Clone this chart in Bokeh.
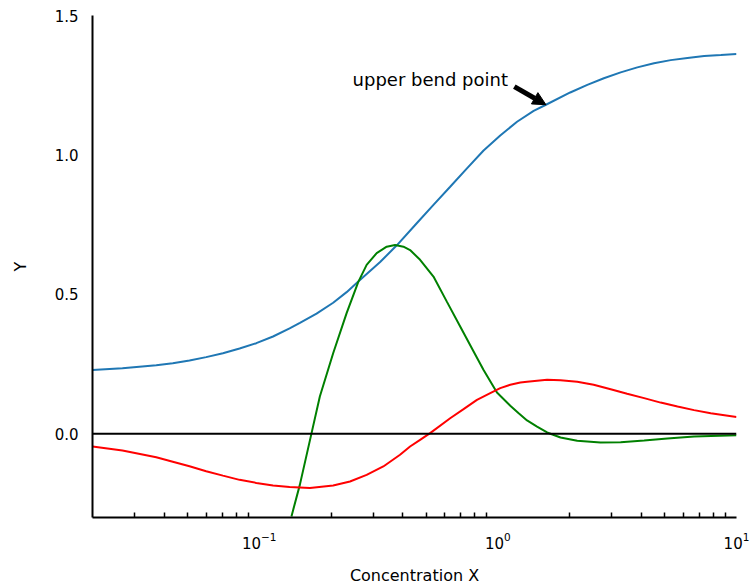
from bokeh.plotting import figure
from bokeh.models import (Range1d, FixedTicker, PrintfTickFormatter, LogTickFormatter,
                          Span, Label, Arrow, NormalHead)
from bokeh.embed import file_html
from bokeh.resources import INLINE

# Dose-response curve (blue) and its two shape curves (green, red), sampled by concentration
blue_x = [0.0200, 0.0267, 0.0370, 0.0434, 0.0510, 0.0599, 0.0704, 0.0827, 0.0972, 0.1142,
          0.134, 0.148, 0.1738, 0.204, 0.2323, 0.262, 0.321, 0.377, 0.457, 0.537,
          0.631, 0.742, 0.871, 1.023, 1.203, 1.412, 1.59, 2.01, 2.37, 2.78,
          3.27, 3.84, 4.51, 5.30, 6.23, 7.32, 8.60, 10.0]
blue_y = [0.229, 0.2355, 0.246, 0.253, 0.263, 0.275, 0.289, 0.306, 0.325, 0.349,
          0.378, 0.398, 0.431, 0.470, 0.508, 0.549, 0.616, 0.676, 0.755, 0.821,
          0.886, 0.952, 1.016, 1.070, 1.119, 1.158, 1.180, 1.224, 1.251, 1.275,
          1.296, 1.314, 1.329, 1.340, 1.348, 1.355, 1.358, 1.362]

green_x = [0.1364, 0.1479, 0.1656, 0.1794, 0.2040, 0.2323, 0.2600, 0.2818, 0.3105, 0.342,
           0.3707, 0.402, 0.4285, 0.472, 0.537, 0.611, 0.695, 0.791, 0.871, 0.991,
           1.127, 1.222, 1.325, 1.459, 1.608, 1.83, 2.15, 2.69, 3.27, 4.10,
           5.13, 6.64, 10.0]
green_y = [-0.296, -0.183, 0.0025, 0.134, 0.289, 0.433, 0.545, 0.606, 0.648, 0.671,
           0.677, 0.671, 0.659, 0.624, 0.564, 0.474, 0.385, 0.295, 0.229, 0.148,
           0.101, 0.074, 0.048, 0.026, 0.005, -0.013, -0.025, -0.031, -0.030, -0.024,
           -0.017, -0.0097, -0.005]

red_x = [0.0200, 0.0267, 0.0370, 0.0434, 0.0510, 0.0599, 0.0704, 0.0827, 0.0972, 0.1142,
         0.134, 0.163, 0.204, 0.240, 0.2818, 0.331, 0.389, 0.4285, 0.472, 0.520,
         0.631, 0.718, 0.817, 0.929, 1.023, 1.127, 1.242, 1.325, 1.608, 1.83,
         2.15, 2.52, 2.97, 3.48, 4.10, 4.81, 5.66, 6.64, 7.80, 10.0]
red_y = [-0.0455, -0.0599, -0.0842, -0.100, -0.1165, -0.134, -0.1498, -0.165, -0.176, -0.185,
         -0.191, -0.194, -0.185, -0.171, -0.147, -0.117, -0.075, -0.0455, -0.0215, 0.0025,
         0.056, 0.0885, 0.122, 0.146, 0.164, 0.176, 0.184, 0.187, 0.194, 0.192,
         0.187, 0.176, 0.160, 0.144, 0.128, 0.112, 0.098, 0.085, 0.074, 0.060]

# Axis ticks
x_major = [0.1, 1.0, 10.0]
x_minor = [0.03, 0.04, 0.05, 0.06, 0.07, 0.08, 0.09,
           0.2, 0.3, 0.4, 0.5, 0.6, 0.7, 0.8, 0.9,
           2, 3, 4, 5, 6, 7, 8, 9]
y_major = [0.0, 0.5, 1.0, 1.5]
baseline = 0.0

# Annotation: arrow from the text to the upper bend point on the curve
bend_x, bend_y = 1.59, 1.180
arrow_tail_x, arrow_tail_y = 1.172, 1.245
note_x, note_y = 0.246, 1.2706
note_text = "upper bend point"

FONT = "DejaVu Sans"

p = figure(width=752, height=588, x_axis_type="log",
           x_range=Range1d(0.02, 10), y_range=Range1d(-0.3, 1.5),
           output_backend="svg", toolbar_location=None,
           min_border_left=92, min_border_right=16, min_border_top=15, min_border_bottom=71)
p.outline_line_color = None
p.background_fill_color = "white"
p.border_fill_color = "white"
p.grid.visible = False

# x axis: powers of ten with superscript exponents
xa = p.xaxis[0]
xa.ticker = FixedTicker(ticks=x_major, minor_ticks=x_minor)
xa.formatter = LogTickFormatter()
xa.axis_label = "Concentration X"
xa.axis_line_width = 2
xa.axis_line_color = "black"
xa.major_tick_in = 0
xa.major_tick_out = 0
xa.minor_tick_in = 5
xa.minor_tick_out = 0
xa.minor_tick_line_width = 1.5
xa.minor_tick_line_color = "black"
xa.major_label_standoff = 14
xa.major_label_text_font = FONT
xa.major_label_text_font_size = "15px"
xa.major_label_text_color = "black"
xa.axis_label_text_font = FONT
xa.axis_label_text_font_size = "16px"
xa.axis_label_text_font_style = "normal"
xa.axis_label_text_color = "black"
xa.axis_label_standoff = 14

# y axis
ya = p.yaxis[0]
ya.ticker = FixedTicker(ticks=y_major, minor_ticks=[])
ya.formatter = PrintfTickFormatter(format="%.1f")
ya.axis_label = "Y"
ya.axis_line_width = 2
ya.axis_line_color = "black"
ya.major_tick_in = 0
ya.major_tick_out = 0
ya.minor_tick_in = 0
ya.minor_tick_out = 0
ya.major_label_standoff = 14
ya.major_label_text_font = FONT
ya.major_label_text_font_size = "15px"
ya.major_label_text_color = "black"
ya.axis_label_text_font = FONT
ya.axis_label_text_font_size = "16px"
ya.axis_label_text_font_style = "normal"
ya.axis_label_text_color = "black"
ya.axis_label_standoff = 22

# zero line
p.add_layout(Span(location=baseline, dimension="width", line_color="black", line_width=2))

# curves
p.line(blue_x, blue_y, line_color="#1f77b4", line_width=2)
p.line(green_x, green_y, line_color="green", line_width=2)
p.line(red_x, red_y, line_color="red", line_width=2)

# annotation
p.add_layout(Arrow(end=NormalHead(size=13, fill_color="black", line_color="black", line_width=1),
                   x_start=arrow_tail_x, y_start=arrow_tail_y, x_end=bend_x, y_end=bend_y,
                   line_color="black", line_width=5))
p.add_layout(Label(x=note_x, y=note_y, text=note_text, text_font=FONT,
                   text_font_size="18px", text_color="black",
                   text_align="left", text_baseline="alphabetic"))

open("out.html", "w").write(file_html(p, INLINE))
